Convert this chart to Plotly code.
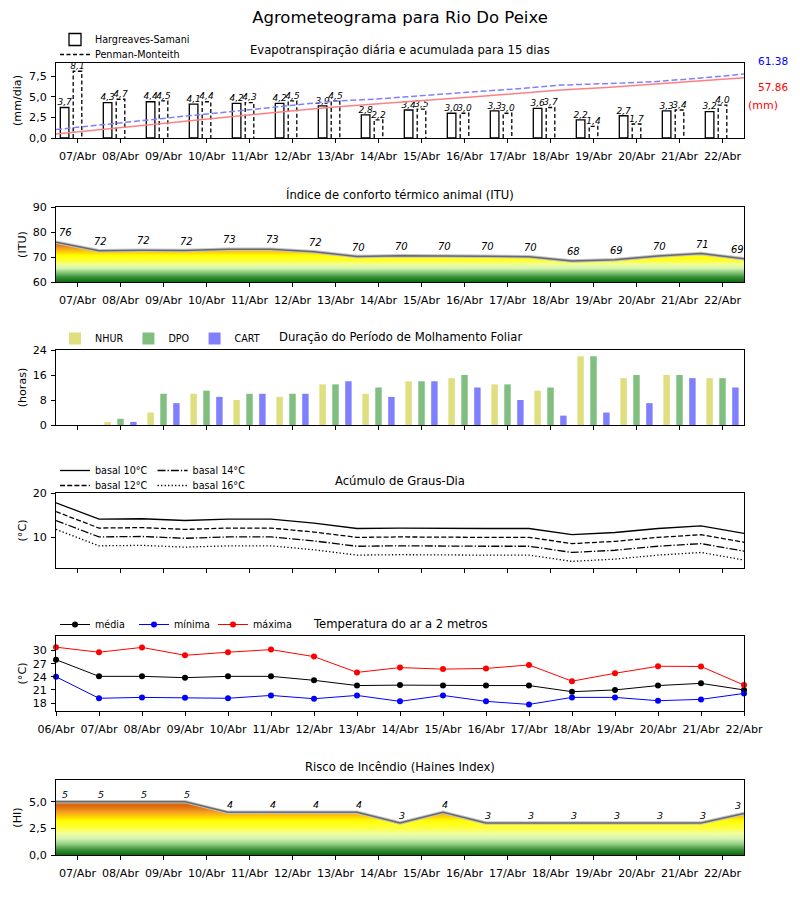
import numpy as np
import plotly.graph_objects as go

# ---------------- data ----------------
days17 = ['06/Abr', '07/Abr', '08/Abr', '09/Abr', '10/Abr', '11/Abr', '12/Abr', '13/Abr', '14/Abr',
          '15/Abr', '16/Abr', '17/Abr', '18/Abr', '19/Abr', '20/Abr', '21/Abr', '22/Abr']
days16 = days17[1:]

et_hs = [3.7, 4.3, 4.4, 4.1, 4.2, 4.2, 3.9, 2.8, 3.4, 3.0, 3.3, 3.6, 2.2, 2.7, 3.3, 3.2]
et_pm = [8.1, 4.7, 4.5, 4.4, 4.3, 4.5, 4.5, 2.2, 3.5, 3.0, 3.0, 3.7, 1.4, 1.7, 3.4, 4.0]
acc_hs = [3.8, 8.2, 12.7, 16.9, 21.2, 25.5, 29.5, 32.4, 35.9, 39.0, 42.4, 46.1, 48.4, 51.2, 54.6, 57.86]
acc_pm = [8.13, 12.86, 17.39, 21.82, 26.15, 30.68, 35.21, 37.44, 40.97, 44.0, 47.03, 50.76, 52.19,
          53.92, 57.35, 61.38]

itu = [75.9, 72.5, 72.7, 72.6, 73.1, 73.1, 72.1, 70.2, 70.5, 70.5, 70.3, 70.1, 68.4, 68.9, 70.4, 71.4, 69.3]
itu_labels = [76, 72, 72, 72, 73, 73, 72, 70, 70, 70, 70, 70, 68, 69, 70, 71, 69]

nhur = [0, 1, 4, 10, 8, 9, 13, 10, 14, 15, 13, 11, 22, 15, 16, 15]
dpo = [0, 2, 10, 11, 10, 10, 13, 12, 14, 16, 13, 12, 22, 16, 16, 15]
cart = [0, 1, 7, 9, 10, 10, 14, 9, 14, 12, 8, 3, 4, 7, 15, 12]

gd10 = [17.8, 14.1, 14.2, 13.8, 14.1, 14.1, 13.2, 12.0, 12.1, 12.0, 12.0, 12.0, 10.6, 11.1, 12.0, 12.6, 10.9]
gd12 = [15.8, 12.1, 12.2, 11.8, 12.1, 12.1, 11.2, 10.0, 10.1, 10.0, 10.0, 10.0, 8.6, 9.1, 10.0, 10.6, 8.9]
gd14 = [13.8, 10.1, 10.2, 9.8, 10.1, 10.1, 9.2, 8.0, 8.1, 8.0, 8.0, 8.0, 6.6, 7.1, 8.0, 8.6, 6.9]
gd16 = [11.8, 8.1, 8.2, 7.8, 8.1, 8.1, 7.2, 6.0, 6.1, 6.0, 6.0, 6.0, 4.6, 5.1, 6.0, 6.6, 4.9]

t_med = [27.9, 24.1, 24.1, 23.8, 24.1, 24.1, 23.2, 22.0, 22.1, 22.0, 22.0, 22.0, 20.6, 21.0, 22.0, 22.5, 21.0]
t_min = [24.0, 19.1, 19.3, 19.2, 19.1, 19.75, 19.0, 19.75, 18.4, 19.75, 18.4, 17.7, 19.3, 19.3, 18.55, 18.85, 20.2]
t_max = [30.75, 29.6, 30.7, 28.9, 29.6, 30.2, 28.6, 25.0, 26.1, 25.75, 25.9, 26.7, 23.0, 24.8, 26.4, 26.35, 22.1]

haines = [5, 5, 5, 5, 4, 4, 4, 4, 3, 4, 3, 3, 3, 3, 3, 3, 3.9]
haines_labels = [5, 5, 5, 5, 4, 4, 4, 4, 3, 4, 3, 3, 3, 3, 3, 3, 3]

# ---------------- helpers ----------------
FONT = 'DejaVu Sans'
OFF = 8                      # page body margin
W, H = 800 - OFF, 900 - OFF
idx16 = np.arange(len(days16))
pos17 = np.arange(len(days17)) - 0.5


def py(p):
    return 1 - (p - OFF) / H


def px(p):
    return (p - OFF) / W


def comma(v, fmt='{:.1f}'):
    return fmt.format(v).replace('.', ',')


fig = go.Figure()

# ---------------- panel 1: ET ----------------
fig.add_trace(go.Bar(x=idx16, y=et_hs, width=0.2, offset=-0.4,
                     marker=dict(color='white', line=dict(color='black', width=1.3)),
                     name='Hargreaves-Samani', legend='legend', xaxis='x', yaxis='y'))
ox, oy = [], []
for i, v in zip(idx16, et_pm):
    ox += [i - 0.1, i - 0.1, i + 0.1, i + 0.1, None]
    oy += [0, v, v, 0, None]
fig.add_trace(go.Scatter(x=ox, y=oy, mode='lines', line=dict(color='black', width=1.3, dash='4px,2.5px'),
                         name='Penman-Monteith', legend='legend2', xaxis='x', yaxis='y'))
fig.add_trace(go.Scatter(x=idx16 - 0.3, y=et_hs, mode='text', text=[comma(v) for v in et_hs],
                         textposition='top center', textfont=dict(size=9, family=FONT, style='italic', color='black'),
                         showlegend=False, xaxis='x', yaxis='y', cliponaxis=False))
fig.add_trace(go.Scatter(x=idx16, y=et_pm, mode='text', text=[comma(v) for v in et_pm],
                         textposition='top center', textfont=dict(size=9, family=FONT, style='italic', color='black'),
                         showlegend=False, xaxis='x', yaxis='y', cliponaxis=False))
fig.add_trace(go.Scatter(x=np.arange(len(acc_hs)), y=acc_hs, mode='lines',
                         line=dict(color='#ff8080', width=1.5), showlegend=False, xaxis='x7', yaxis='y7'))
fig.add_trace(go.Scatter(x=np.arange(len(acc_pm)), y=acc_pm, mode='lines',
                         line=dict(color='#8080ff', width=1.5, dash='6px,2.7px'), showlegend=False,
                         xaxis='x7', yaxis='y7'))

# ---------------- panel 2: ITU ----------------
itu_scale = [[0.0, '#0b6b0b'], [0.125, '#3a923a'], [0.25, '#8fcc7f'], [0.34, '#d5f5b0'],
             [0.44, '#f0ff9a'], [0.53, '#ffff30'], [0.66, '#ffff00'], [0.75, '#ffd000'],
             [0.84, '#f5a020'], [0.94, '#e07010'], [1.0, '#d05a00']]
fig.add_trace(go.Scatter(x=pos17, y=itu, mode='lines', line=dict(width=0), fill='tozeroy',
                         fillgradient=dict(type='vertical', colorscale=itu_scale, start=60, stop=76),
                         showlegend=False, xaxis='x2', yaxis='y2', hoverinfo='skip'))
fig.add_trace(go.Scatter(x=pos17, y=itu, mode='lines', line=dict(color='#c4c4c4', width=3.5),
                         showlegend=False, xaxis='x2', yaxis='y2'))
fig.add_trace(go.Scatter(x=pos17, y=itu, mode='lines', line=dict(color='#6a6a6a', width=1.5),
                         showlegend=False, xaxis='x2', yaxis='y2'))

# ---------------- panel 3: leaf wetness ----------------
for name, vals, col, off in [('NHUR', nhur, '#dfdf80', -0.375), ('DPO', dpo, '#80bf80', -0.075),
                             ('CART', cart, '#8080ff', 0.225)]:
    fig.add_trace(go.Bar(x=idx16, y=vals, width=0.15, offset=off, marker=dict(color=col, line=dict(width=0)),
                         name=name, legend='legend3', xaxis='x3', yaxis='y3'))

# ---------------- panel 4: degree days ----------------
for name, vals, dash, leg in [('basal 10°C', gd10, 'solid', 'legend4'), ('basal 14°C', gd14, '8px,2px,1.3px,2px', 'legend4'),
                              ('basal 12°C', gd12, '5px,2.2px', 'legend5'), ('basal 16°C', gd16, '1.3px,2.2px', 'legend5')]:
    fig.add_trace(go.Scatter(x=pos17, y=vals, mode='lines', line=dict(color='black', width=1.3, dash=dash),
                             name=name, legend=leg, xaxis='x4', yaxis='y4'))

# ---------------- panel 5: temperature ----------------
for name, vals, col in [('média', t_med, 'black'), ('mínima', t_min, 'blue'), ('máxima', t_max, 'red')]:
    fig.add_trace(go.Scatter(x=pos17, y=vals, mode='lines+markers', line=dict(color=col, width=1),
                             marker=dict(color=col, size=6), name=name, legend='legend6',
                             xaxis='x5', yaxis='y5', cliponaxis=False))

# ---------------- panel 6: Haines ----------------
hai_scale = [[0.0, '#0a6a0a'], [0.1, '#3a923a'], [0.2, '#8fcc80'], [0.3, '#d0f0b0'], [0.4, '#f0ffa0'],
             [0.5, '#ffff40'], [0.64, '#ffff00'], [0.72, '#ffd000'], [0.8, '#f5a020'], [0.9, '#e07010'],
             [1.0, '#d05a00']]
fig.add_trace(go.Scatter(x=pos17, y=haines, mode='lines', line=dict(width=0), fill='tozeroy',
                         fillgradient=dict(type='vertical', colorscale=hai_scale, start=0, stop=5),
                         showlegend=False, xaxis='x6', yaxis='y6', hoverinfo='skip'))
fig.add_trace(go.Scatter(x=pos17, y=haines, mode='lines', line=dict(color='#c4c4c4', width=3.5),
                         showlegend=False, xaxis='x6', yaxis='y6'))
fig.add_trace(go.Scatter(x=pos17, y=haines, mode='lines', line=dict(color='#6a6a6a', width=1.5),
                         showlegend=False, xaxis='x6', yaxis='y6'))

# ---------------- annotations ----------------
ann = []
n17 = len(pos17)
for k in range(n17):
    xs = 9 if k == 0 else (-7 if k == n17 - 1 else 1)
    ann.append(dict(x=pos17[k], y=itu[k], xref='x2', yref='y2', text=str(itu_labels[k]), showarrow=False,
                    yanchor='bottom', yshift=2, xshift=xs,
                    font=dict(size=10, family=FONT, style='italic', color='black')))
    xs = 9 if k == 0 else (-6 if k == n17 - 1 else 2)
    ann.append(dict(x=pos17[k], y=haines[k], xref='x6', yref='y6', text=str(haines_labels[k]), showarrow=False,
                    yanchor='bottom', yshift=0, xshift=xs,
                    font=dict(size=9.5, family=FONT, style='italic', color='black')))

titles = [('Evapotranspiração diária e acumulada para 15 dias', 50),
          ('Índice de conforto térmico animal (ITU)', 194),
          ('Duração do Período de Molhamento Foliar', 337),
          ('Acúmulo de Graus-Dia', 481),
          ('Temperatura do ar a 2 metros', 624),
          ('Risco de Incêndio (Haines Index)', 767)]
for t, yy in titles:
    ann.append(dict(x=px(400), y=py(yy), xref='paper', yref='paper', text=t, showarrow=False,
                    xanchor='center', yanchor='middle', font=dict(size=11.6, family=FONT, color='black')))

ann.append(dict(x=px(756), y=py(61), xref='paper', yref='paper', text='{:.2f}'.format(acc_pm[-1]),
                showarrow=False, xanchor='left', yanchor='middle', font=dict(size=10.5, family=FONT, color='blue')))
ann.append(dict(x=px(756), y=py(87), xref='paper', yref='paper', text='{:.2f}'.format(acc_hs[-1]),
                showarrow=False, xanchor='left', yanchor='middle', font=dict(size=10.5, family=FONT, color='red')))
ann.append(dict(x=px(746), y=py(105), xref='paper', yref='paper', text='(mm)',
                showarrow=False, xanchor='left', yanchor='middle', font=dict(size=11, family=FONT, color='red')))

# ---------------- layout ----------------
tickfont = dict(size=11.1, family=FONT, color='black')
base_ax = dict(showline=True, mirror=True, linecolor='black', linewidth=1, ticks='outside', ticklen=4,
               tickwidth=1, tickcolor='black', showgrid=False, zeroline=False, tickfont=tickfont,
               automargin=False)
dom_x = [px(56), px(744)]


def xax(anchor, labels=True, vals=None, text=None):
    d = dict(base_ax, domain=dom_x, anchor=anchor, range=[-0.5, 15.5],
             tickvals=list(idx16) if vals is None else vals,
             ticktext=days16 if text is None else text, showticklabels=labels, ticklabelstandoff=4)
    return d


def yax(anchor, top, bot, rng, tv, tt, title, standoff):
    return dict(base_ax, domain=[py(bot), py(top)], anchor=anchor, range=rng, tickvals=tv, ticktext=tt,
                ticklabelstandoff=2,
                title=dict(text=title, font=dict(size=11.1, family=FONT, color='black'), standoff=standoff))


legfont = dict(size=9.6, family=FONT, color='black')


def leg(x, yc, orient='h', **kw):
    return dict(x=px(x), y=py(yc - 13), xanchor='left', yanchor='top', orientation=orient, font=legfont,
                bgcolor='rgba(0,0,0,0)', borderwidth=0, tracegroupgap=0, **kw)


fig.update_layout(
    width=W, height=H, margin=dict(l=0, r=0, t=0, b=0), paper_bgcolor='white', plot_bgcolor='white',
    font=dict(family=FONT, color='black'),
    title=dict(text='Agrometeograma para Rio Do Peixe', x=px(400), xanchor='center', y=py(17), yanchor='middle',
               font=dict(size=16.5, family=FONT, color='black')),
    showlegend=True, barmode='overlay', hovermode=False,
    xaxis=xax('y'),
    yaxis=yax('x', 63, 138, [0, 9.1], [0, 2.5, 5, 7.5], [comma(v) for v in [0, 2.5, 5, 7.5]], '(mm/dia)', 5),
    xaxis7=dict(overlaying='x', range=[0, len(acc_hs) - 1], visible=False, anchor='y7'),
    yaxis7=dict(overlaying='y', range=[0, 72], visible=False, anchor='x7'),
    xaxis2=xax('y2'),
    yaxis2=yax('x2', 207, 282, [60, 90], [60, 70, 80, 90], ['60', '70', '80', '90'], '(ITU)', 3),
    xaxis3=xax('y3', labels=False),
    yaxis3=yax('x3', 350, 425, [0, 24], [0, 8, 16, 24], ['0', '8', '16', '24'], '(horas)', 3),
    xaxis4=xax('y4', labels=False),
    yaxis4=yax('x4', 493, 568, [3.1, 20], [10, 20], ['10', '20'], '(°C)', 3),
    xaxis5=xax('y5', vals=list(pos17), text=days17),
    yaxis5=yax('x5', 636, 711, [16.2, 33.3], [18, 21, 24, 27, 30], ['18', '21', '24', '27', '30'], '(°C)', 3),
    xaxis6=xax('y6'),
    yaxis6=yax('x6', 780, 855, [0, 7.03], [0, 2.5, 5], [comma(v) for v in [0, 2.5, 5]], '(HI)', 5),
    legend=leg(55, 38, 'v'),
    legend2=leg(55, 53, 'v'),
    legend3=leg(55, 337),
    legend4=leg(55, 469),
    legend5=leg(55, 484),
    legend6=leg(55, 623, entrywidth=34),
    annotations=ann,
)

fig.write_html("out.html")
